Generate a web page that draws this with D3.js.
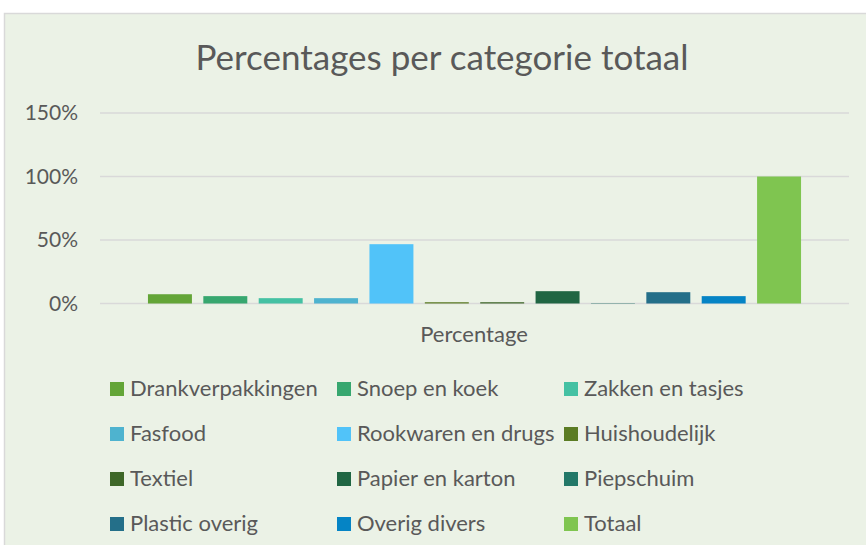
<!DOCTYPE html>
<html>
<head>
<meta charset="utf-8">
<script src="https://cdn.jsdelivr.net/npm/d3@7"></script>
<style>
  body { margin: 0; background: #fff; }
  svg { display: block; font-family: Lato, "Open Sans", sans-serif; }
</style>
</head>
<body>
<div id="chart"></div>
<script>
  // series (one per category of litter), single x-category "Percentage"
  const series = ["Drankverpakkingen", "Snoep en koek", "Zakken en tasjes", "Fasfood",
    "Rookwaren en drugs", "Huishoudelijk", "Textiel", "Papier en karton",
    "Piepschuim", "Plastic overig", "Overig divers", "Totaal"];
  const values = [7.3, 5.8, 4.2, 4.2, 46.7, 1.0, 1.0, 9.7, 0.3, 8.9, 5.8, 100];
  const colors = ["#63a537", "#37a76f", "#44c1a3", "#4eb3cf", "#51c3f9", "#5b7c24",
    "#3e6728", "#206643", "#227868", "#246f89", "#0584c5", "#7fc550"];
  const yTicks = [0, 50, 100, 150];

  const width = 866, height = 545;
  const svg = d3.select("#chart").append("svg")
    .attr("width", width).attr("height", height);

  // chart area
  svg.append("rect")
    .attr("x", 4.5).attr("y", 13.5)
    .attr("width", width).attr("height", height)
    .attr("fill", "#ebf2e6").attr("stroke", "#d9d9d9").attr("stroke-width", 1.5);

  svg.append("text")
    .attr("x", 442).attr("y", 70)
    .attr("text-anchor", "middle")
    .attr("font-size", 35).attr("fill", "#595959")
    .text("Percentages per categorie totaal");

  const x = d3.scaleBand().domain(series).range([100, 849])
    .paddingInner(0.206).paddingOuter(0.866);
  const y = d3.scaleLinear().domain([0, 150]).range([303.5, 113]);

  // gridlines
  svg.append("g").selectAll("line").data(yTicks).join("line")
    .attr("x1", 100).attr("x2", 849)
    .attr("y1", d => y(d)).attr("y2", d => y(d))
    .attr("stroke", "#d9d9d9").attr("stroke-width", 1.5);

  const yAxis = svg.append("g").attr("transform", "translate(78,0)")
    .call(d3.axisLeft(y).tickValues(yTicks).tickSize(0).tickPadding(0).tickFormat(d => d + "%"));
  yAxis.select(".domain").remove();
  yAxis.selectAll("text").attr("font-size", 21).attr("fill", "#595959")
    .attr("font-family", "Lato, sans-serif");

  svg.append("g").selectAll("rect").data(series).join("rect")
    .attr("x", d => x(d))
    .attr("width", x.bandwidth())
    .attr("y", (d, i) => y(values[i]))
    .attr("height", (d, i) => y(0) - y(values[i]))
    .attr("fill", (d, i) => colors[i]);

  svg.append("text")
    .attr("x", 474).attr("y", 342)
    .attr("text-anchor", "middle")
    .attr("font-size", 22).attr("fill", "#595959")
    .text("Percentage");

  // legend, 3 columns
  const colX = [110, 337, 564];
  const rowY = [389, 434, 479, 524];
  const legend = svg.append("g").selectAll("g").data(series).join("g")
    .attr("transform", (d, i) => `translate(${colX[i % 3]},${rowY[Math.floor(i / 3)]})`);
  legend.append("rect")
    .attr("x", 0).attr("y", -7).attr("width", 14).attr("height", 14)
    .attr("fill", (d, i) => colors[i]);
  legend.append("text")
    .attr("x", 20).attr("y", 7)
    .attr("font-size", 22).attr("fill", "#595959")
    .text(d => d);
</script>
</body>
</html>
